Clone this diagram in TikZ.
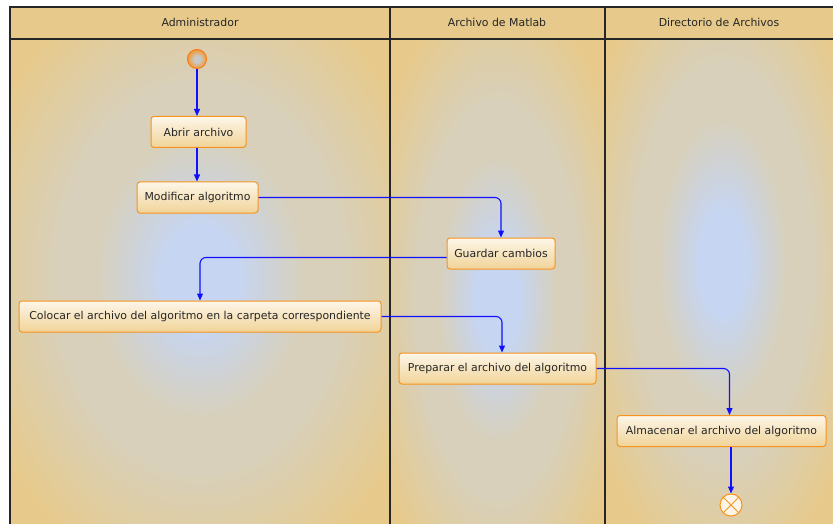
\documentclass[tikz,border=0pt]{standalone}
\usepackage{fontspec}
\setmainfont{DejaVu Sans}
\usetikzlibrary{arrows.meta,calc}
\definecolor{lanetan}{HTML}{E7CA8B}
\definecolor{lanemid}{HTML}{D8D0BA}
\definecolor{laneblue}{HTML}{C6D5F1}
\definecolor{boxlight}{HTML}{FDF6E8}
\definecolor{boxdark}{HTML}{F0D398}
\definecolor{boxborder}{HTML}{F7931E}
\definecolor{flowblue}{HTML}{1010FF}
\definecolor{startin}{HTML}{C9C9C9}
\definecolor{startout}{HTML}{F7921C}
\pgfdeclareradialshading{laneshade}{\pgfpoint{0bp}{0bp}}{%
  color(0bp)=(laneblue); color(5bp)=(laneblue); color(14bp)=(lanemid);
  color(19bp)=(lanemid); color(31bp)=(lanetan); color(100bp)=(lanetan)}
\pgfdeclareradialshading{startshade}{\pgfpoint{0bp}{0bp}}{%
  color(0bp)=(startin); color(8bp)=(startin); color(28bp)=(startout); color(100bp)=(startout)}
\begin{document}
\begin{tikzpicture}[x=1pt,y=-1pt,
  every node/.style={font=\fontsize{10.9}{12}\selectfont, text=black!85},
  act/.style={draw=boxborder, line width=1pt, rounded corners=3pt,
    top color=boxlight, bottom color=boxdark, minimum height=31pt, inner sep=0pt},
  flow/.style={draw=flowblue, line width=1.1pt, rounded corners=6pt,
    -{Triangle[length=7pt,width=6pt]}},
  frame/.style={line width=1.2pt, draw=black!85}]
\useasboundingbox (0,0) rectangle (833,524);
% lanes
\fill[lanetan] (10,7) rectangle (833,524);
\begin{scope}
\clip (10,39) rectangle (390,524);
\shade[shading=laneshade] (10,20) rectangle (390,535);
\end{scope}
\begin{scope}
\clip (390,39) rectangle (605,524);
\shade[shading=laneshade] (390,39) rectangle (605,560);
\end{scope}
\begin{scope}
\clip (605,39) rectangle (833,524);
\shade[shading=laneshade] (605,0) rectangle (840,525);
\end{scope}
\draw[frame] (833,7) -- (10,7) -- (10,524);
\draw[frame] (10,39) -- (833,39);
\draw[frame] (390,7) -- (390,524);
\draw[frame] (605,7) -- (605,524);
\node (h1) at (200,22) {Administrador};
\node (h2) at (497,22) {Archivo de Matlab};
\node (h3) at (719,22) {Directorio de Archivos};
% nodes
\node[circle, minimum size=19pt, inner sep=0pt, draw=startout!85!red, line width=1pt, shading=startshade] (start) at (197,59) {};
\node[act, minimum width=95pt] (abrir) at (198.5,132) {Abrir archivo};
\node[act, minimum width=121pt] (modif) at (197.5,197.5) {Modificar algoritmo};
\node[act, minimum width=108pt] (guardar) at (501,253.5) {Guardar cambios};
\node[act, minimum width=362pt] (colocar) at (200,316.5) {Colocar el archivo del algoritmo en la carpeta correspondiente};
\node[act, minimum width=197pt] (preparar) at (497.5,368.5) {Preparar el archivo del algoritmo};
\node[act, minimum width=209pt] (almacenar) at (721.5,431) {Almacenar el archivo del algoritmo};
\node[circle, minimum size=22pt, inner sep=0pt, draw=boxborder, line width=1pt, fill=boxlight] (end) at (731,505) {};
\draw[boxborder, line width=1pt] (end.north east) -- (end.south west) (end.north west) -- (end.south east);
% flows
\draw[flow] (start) -- (start |- abrir.north);
\draw[flow] (start |- abrir.south) -- (start |- modif.north);
\draw[flow] (modif.east) -| (guardar.north);
\draw[flow] ([yshift=-4pt]guardar.west) -| (colocar.north);
\draw[flow] (colocar.east) -| ([xshift=4.5pt]preparar.north);
\draw[flow] (preparar.east) -| ([xshift=8pt]almacenar.north);
\draw[flow] (almacenar.south -| end) -- (end);
\end{tikzpicture}
\end{document}
